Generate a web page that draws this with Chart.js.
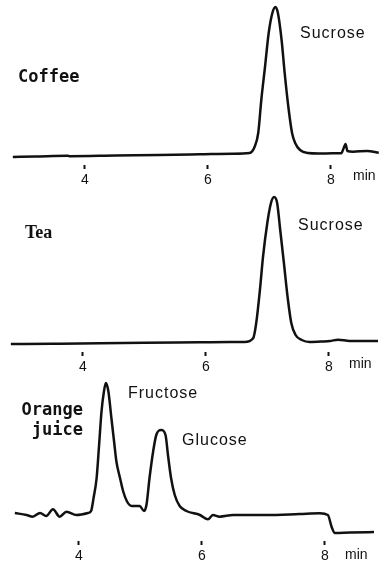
<!DOCTYPE html>
<html lang="en">

<head>
    <meta charset="UTF-8">
    <title>Sugar chromatograms</title>
    <script src="https://cdn.jsdelivr.net/npm/chart.js"></script>
    <style>
        html, body {
            margin: 0;
            padding: 0;
            background: #fff;
        }

        .panel {
            position: relative;
            width: 390px;
        }
    </style>
</head>

<body>
    <div class="panel" style="height:190px"><canvas id="coffeeChart"></canvas></div>
    <div class="panel" style="height:188px"><canvas id="teaChart"></canvas></div>
    <div class="panel" style="height:190px"><canvas id="juiceChart"></canvas></div>

    <script>
        // retention time axis (min)
        const X_TICKS = [4, 6, 8];

        // Coffee trace: time (min) / detector signal
        const COFFEE_T = [2.83, 3.20, 3.72, 3.76, 4.50, 5.20, 5.87, 6.40, 6.68, 6.76, 6.82, 6.87, 6.93, 6.99, 7.05, 7.10,
            7.14, 7.20, 7.25, 7.31, 7.37, 7.42, 7.50, 7.63, 7.80, 8.03, 8.17, 8.21, 8.24, 8.27, 8.36, 8.59, 8.78];
        const COFFEE_S = [0, 0.5, 1.3, 0.8, 1.5, 2, 2.7, 3.3, 4, 10, 24, 57, 90, 124, 144, 150,
            144, 117, 84, 50, 24, 14, 7, 4, 3.5, 3.7, 3.7, 9, 13, 6, 5.3, 6, 4.3];

        // Tea trace
        const TEA_T = [2.83, 3.50, 4.28, 5.00, 5.90, 6.40, 6.63, 6.77, 6.82, 6.88, 6.93, 7.00, 7.06, 7.11, 7.16, 7.21,
            7.27, 7.33, 7.39, 7.46, 7.56, 7.69, 7.90, 8.02, 8.15, 8.34, 8.81];
        const TEA_S = [0, 0.3, 0.7, 1.2, 1.7, 2, 2, 5.7, 21, 54, 87, 121, 141, 147, 141, 114,
            81, 47, 21, 9, 4, 2, 2.5, 3, 4.3, 3, 3];

        // Orange juice trace
        const JUICE_T = [2.96, 3.15, 3.25, 3.37, 3.47, 3.58, 3.69, 3.80, 3.96, 4.15, 4.20, 4.24, 4.29, 4.33, 4.37, 4.41,
            4.44, 4.48, 4.53, 4.58, 4.61, 4.67, 4.72, 4.78, 4.86, 4.99, 5.06, 5.10, 5.15, 5.21, 5.26, 5.34,
            5.41, 5.45, 5.50, 5.56, 5.64, 5.75, 5.97, 6.10, 6.18, 6.29, 6.51, 7.05, 7.59, 7.92, 8.05, 8.11,
            8.16, 8.41, 8.85];
        const JUICE_S = [0, -2, -3.7, 0, -3, 3.7, -3.7, 1.3, -2, 0, 2, 15, 35, 68, 102, 122,
            130, 122, 95, 68, 52, 35, 22, 12, 7, 7, 2, 8, 35, 62, 78, 83,
            78, 58, 35, 18, 7, 2, -2, -6.3, -2, -3.7, -2, -2, -1, -0.3, -2, -13.7,
            -20, -19.5, -19];

        const INK = '#111';
        const SANS = 'Arial, "Liberation Sans", sans-serif';

        // draws panel names and peak names
        const textPlugin = {
            id: 'panelText',
            afterDraw(chart, args, opts) {
                const ctx = chart.ctx;
                ctx.save();
                ctx.fillStyle = INK;
                ctx.textBaseline = 'alphabetic';
                opts.items.forEach(it => {
                    ctx.font = it.font;
                    ctx.textAlign = it.align || 'left';
                    ctx.letterSpacing = it.spacing || '0px';
                    ctx.fillText(it.text, it.x, it.y);
                });
                ctx.restore();
            }
        };

        function makePanel(id, times, signal, yMin, yMax, pad, items) {
            return new Chart(document.getElementById(id), {
                type: 'line',
                data: {
                    datasets: [{
                        data: times.map((t, i) => ({ x: t, y: signal[i] })),
                        borderColor: INK,
                        borderWidth: 2.5,
                        pointRadius: 0,
                        fill: false,
                        cubicInterpolationMode: 'monotone'
                    }]
                },
                options: {
                    responsive: true,
                    maintainAspectRatio: false,
                    animation: false,
                    layout: { padding: pad },
                    scales: {
                        x: {
                            type: 'linear',
                            min: 2.8,
                            max: 8.8,
                            border: { display: false },
                            grid: {
                                drawOnChartArea: false,
                                tickLength: 4,
                                tickWidth: 2,
                                tickColor: INK
                            },
                            ticks: {
                                color: INK,
                                padding: 3,
                                font: { family: SANS, size: 14 }
                            },
                            afterBuildTicks: s => { s.ticks = X_TICKS.map(v => ({ value: v })); },
                            afterFit: s => { s.height = 25; }
                        },
                        y: { display: false, min: yMin, max: yMax }
                    },
                    plugins: {
                        legend: { display: false },
                        tooltip: { enabled: false },
                        panelText: { items: items }
                    }
                },
                plugins: [textPlugin]
            });
        }

        const peakFont = '16px ' + SANS;
        const minFont = '14px ' + SANS;

        makePanel('coffeeChart', COFFEE_T, COFFEE_S, -8, 157, { left: 11, right: 10, top: 0, bottom: 0 }, [
            { text: 'Coffee', x: 18, y: 82, font: 'bold 17px "DejaVu Sans Mono", monospace' },
            { text: 'Sucrose', x: 300, y: 38, font: peakFont, spacing: '1px' },
            { text: 'min', x: 353, y: 180, font: minFont }
        ]);

        makePanel('teaChart', TEA_T, TEA_S, -8, 154, { left: 9, right: 12, top: 0, bottom: 1 }, [
            { text: 'Tea', x: 25, y: 48, font: 'bold 18px "Liberation Serif", serif' },
            { text: 'Sucrose', x: 298, y: 40, font: peakFont, spacing: '1px' },
            { text: 'min', x: 349, y: 178, font: minFont }
        ]);

        makePanel('juiceChart', JUICE_T, JUICE_S, -28, 135, { left: 5, right: 16, top: 0, bottom: 2 }, [
            { text: 'Orange', x: 83, y: 37, align: 'right', font: 'bold 17px "DejaVu Sans Mono", monospace' },
            { text: 'juice', x: 83, y: 57, align: 'right', font: 'bold 17px "DejaVu Sans Mono", monospace' },
            { text: 'Fructose', x: 128, y: 20, font: peakFont, spacing: '1px' },
            { text: 'Glucose', x: 182, y: 67, font: peakFont, spacing: '1px' },
            { text: 'min', x: 345, y: 181, font: minFont }
        ]);
    </script>
</body>

</html>
